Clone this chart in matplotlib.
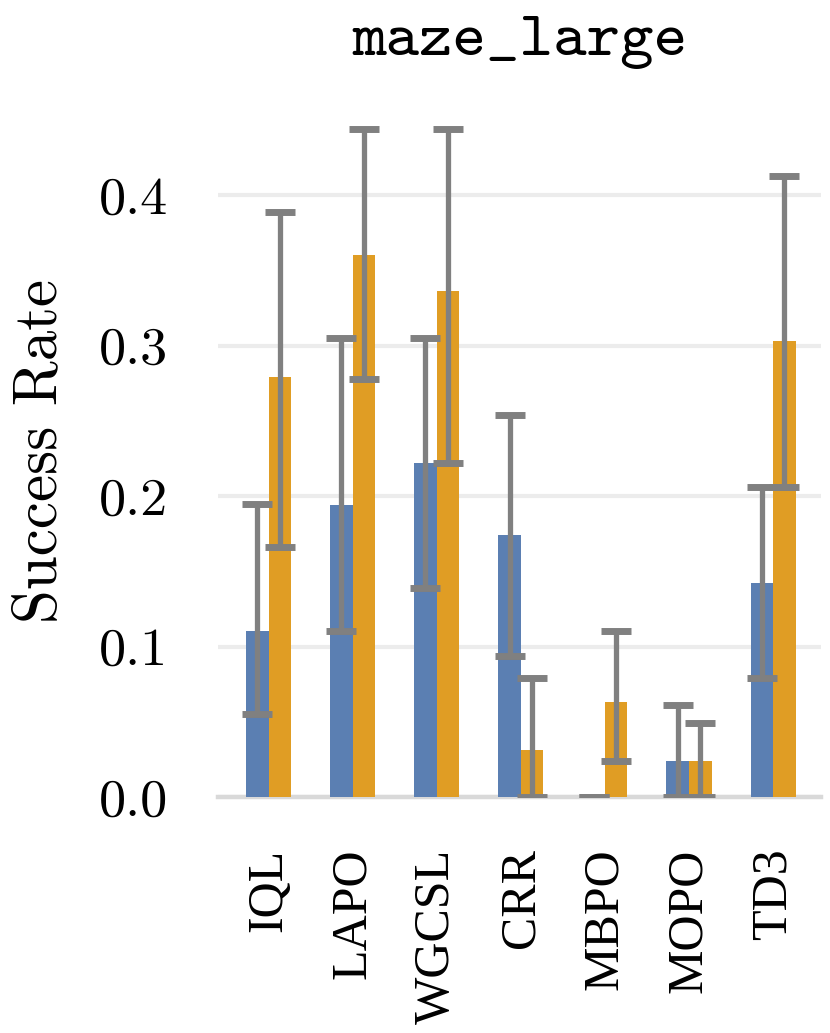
import matplotlib
matplotlib.use("Agg")
import matplotlib.pyplot as plt
import numpy as np

# success rate per method, two variants (blue / orange) with lower/upper bounds
methods = ["IQL", "LAPO", "WGCSL", "CRR", "MBPO", "MOPO", "TD3"]

blue_mean = [0.110, 0.194, 0.222, 0.174, 0.0, 0.024, 0.142]
blue_lo = [0.055, 0.110, 0.139, 0.094, 0.0, 0.0, 0.079]
blue_hi = [0.195, 0.305, 0.305, 0.254, 0.0, 0.061, 0.206]

orange_mean = [0.279, 0.360, 0.336, 0.031, 0.063, 0.024, 0.303]
orange_lo = [0.166, 0.278, 0.222, 0.0, 0.024, 0.0, 0.206]
orange_hi = [0.389, 0.444, 0.444, 0.079, 0.110, 0.049, 0.413]

yticks = [0.0, 0.1, 0.2, 0.3, 0.4]

blue = "#5b7fb2"
orange = "#e09d24"
err_color = "#808080"

fig = plt.figure(figsize=(8.3, 10.33), dpi=100)
ax = fig.add_axes([0.2627, 0.2285, 0.7265, 0.670])

x = np.arange(len(methods))
w = 0.268

def yerr(mean, lo, hi):
    mean = np.array(mean)
    return np.vstack([mean - np.array(lo), np.array(hi) - mean])

ekw = dict(ecolor=err_color, elinewidth=3.8, capsize=10.5, capthick=5.0, zorder=4)
ax.bar(x - w / 2, blue_mean, w, color=blue, linewidth=0,
       yerr=yerr(blue_mean, blue_lo, blue_hi), error_kw=ekw, zorder=3)
ax.bar(x + w / 2, orange_mean, w, color=orange, linewidth=0,
       yerr=yerr(orange_mean, orange_lo, orange_hi), error_kw=ekw, zorder=3)

ax.set_xlim(-0.6, 6.57)
ax.set_ylim(0, 0.46)

ax.set_yticks(yticks)
ax.set_yticklabels([f"{t:.1f}" for t in yticks], fontfamily="cmr10", fontsize=39)
ax.set_xticks(x)
ax.set_xticklabels(methods, rotation=90, fontfamily="Liberation Serif", fontsize=36)
ax.tick_params(axis="y", length=0, pad=36)
ax.tick_params(axis="x", length=0, pad=37)

ax.yaxis.grid(True, color="#ececec", linewidth=3, zorder=0)
ax.set_axisbelow(True)
for s in ["top", "right", "left"]:
    ax.spines[s].set_visible(False)
ax.spines["bottom"].set_color("#d9d9d9")
ax.spines["bottom"].set_linewidth(3.2)

ax.set_ylabel("Success Rate", fontfamily="cmr10", fontsize=44, labelpad=22)
ax.set_title("maze_large", fontfamily="cmtt10", fontsize=46, pad=36)

fig.savefig("out.png", dpi=100)
